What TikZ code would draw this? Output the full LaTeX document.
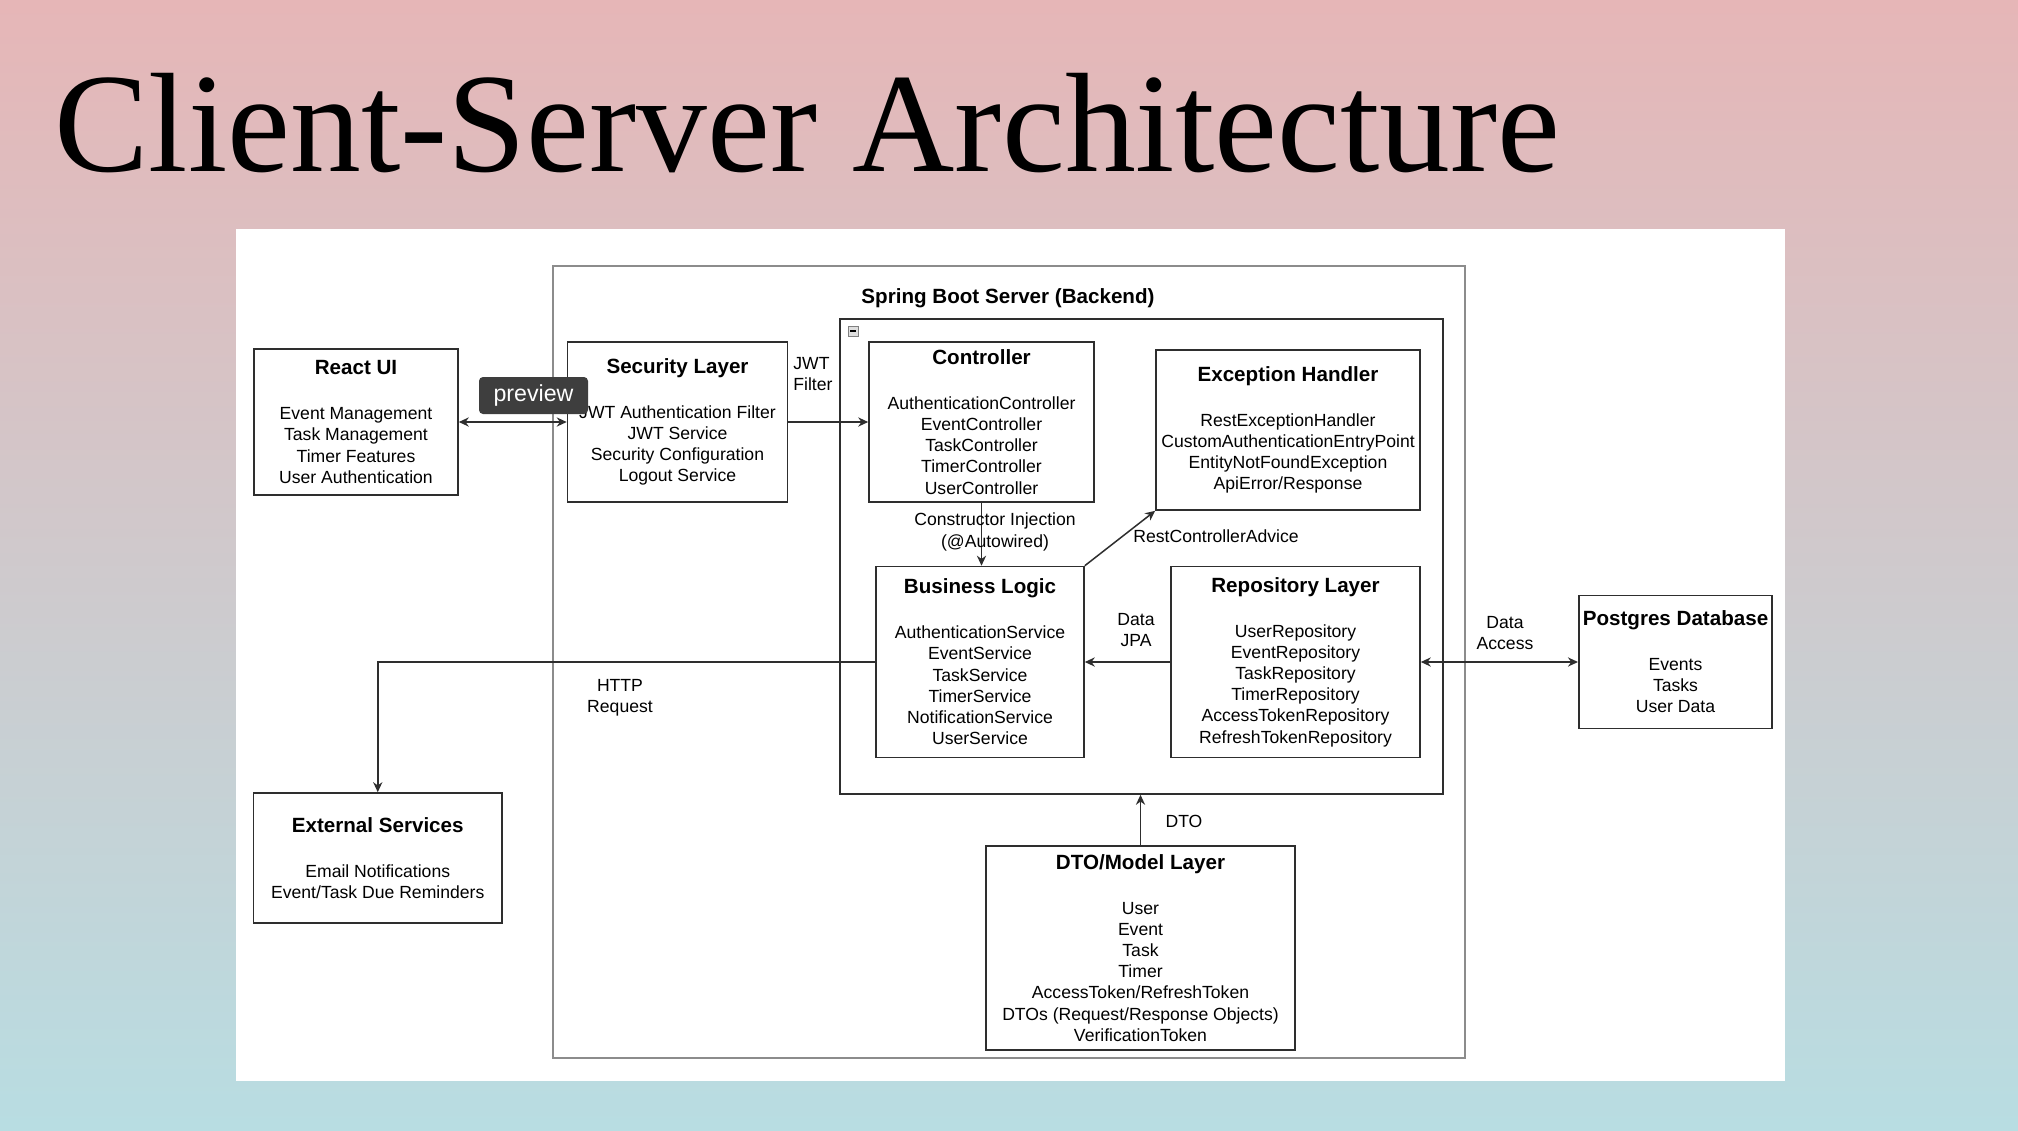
\documentclass[tikz,border=0pt]{standalone}
\usepackage{fontspec}
\setmainfont{Liberation Sans}
\newfontfamily\slidefont{Liberation Serif}
\usepackage{tikz}
\usetikzlibrary{positioning, arrows.meta}
\usepackage{xcolor}

\definecolor{slidetop}{HTML}{E6B6B7}
\definecolor{slidemid}{HTML}{D3CBCF}
\definecolor{slidebot}{HTML}{B8DDE2}
\definecolor{linegray}{HTML}{2E2E2E}
\definecolor{framegray}{HTML}{8C8C8C}
\definecolor{badgegray}{HTML}{3E3E3E}

\newcommand{\itemsize}{\fontsize{8.8}{10.6}\selectfont}
\newcommand{\boxhead}[1]{{\fontsize{10.3}{12}\selectfont\bfseries #1}\\[11.8pt]}

\begin{document}
\begin{tikzpicture}[
                  x=0.5pt, y=-0.5pt, % pixel grid, y downwards
                  every node/.style={font=\itemsize},
                  process/.style={rectangle, draw=linegray, line width=0.8pt, align=center, inner sep=2pt},
                  container/.style={rectangle, draw=framegray, line width=1pt},
                  lane/.style={rectangle, draw=linegray, line width=0.8pt},
                  lbl/.style={align=center, inner sep=0pt},
                  arrow/.style={line width=0.75pt, draw=linegray, -{Stealth[length=5pt, width=4.6pt]}},
                  dblarrow/.style={arrow, {Stealth[length=5pt, width=4.6pt]}-{Stealth[length=5pt, width=4.6pt]}},
                  badge/.style={rectangle, rounded corners=2pt, fill=badgegray, text=white, font=\fontsize{11.6}{13}\selectfont, minimum width=54.5pt, minimum height=18.5pt, inner sep=0pt}
            ]
            \useasboundingbox (0,0) rectangle (2018,1130);

            % Slide background
            \shade [top color=slidetop, middle color=slidemid, bottom color=slidebot] (0,0) rectangle (2018,1130);
            \node (title) [anchor=base west, inner sep=0pt, font=\slidefont\fontsize{70.8}{80}\selectfont] at (54,171) {Client-Server Architecture};
            \fill [white] (235.5,229) rectangle (1785,1081);

            % Containers
            \node (server) [container, minimum width=456pt, minimum height=396pt] at (1009,662) {};
            \node (servertitle) [font=\fontsize{10.3}{12}\selectfont\bfseries] at (1008,298) {Spring Boot Server (Backend)};
            \node (core) [lane, minimum width=301.5pt, minimum height=237.5pt] at (1141.5,556.5) {};
            \node (fold) [draw=gray, fill=gray!25, line width=0.4pt, minimum size=5pt, inner sep=0pt] at (853,331) {};
            \draw [line width=0.6pt] ([xshift=1.2pt]fold.west) -- ([xshift=-1.2pt]fold.east);

            % Nodes
            \node (react) [process, minimum width=102pt, minimum height=73pt] at (356,422) {\boxhead{React UI}Event Management\\Task Management\\Timer Features\\User Authentication};
            \node (security) [process, minimum width=110pt, minimum height=80pt] at (677.5,422) {\boxhead{Security Layer}JWT Authentication Filter\\JWT Service\\Security Configuration\\Logout Service};
            \node (controller) [process, minimum width=112.5pt, minimum height=80pt] at (981.5,422) {\boxhead{Controller}AuthenticationController\\EventController\\TaskController\\TimerController\\UserController};
            \node (exception) [process, minimum width=132pt, minimum height=80pt] at (1288,430) {\boxhead{Exception Handler}RestExceptionHandler\\CustomAuthenticationEntryPoint\\EntityNotFoundException\\ApiError/Response};
            \node (business) [process, minimum width=104pt, minimum height=95.5pt] at (980,662) {\boxhead{Business Logic}AuthenticationService\\EventService\\TaskService\\TimerService\\NotificationService\\UserService};
            \node (repository) [process, minimum width=124.5pt, minimum height=95.5pt] at (1295.5,662) {\boxhead{Repository Layer}UserRepository\\EventRepository\\TaskRepository\\TimerRepository\\AccessTokenRepository\\RefreshTokenRepository};
            \node (postgres) [process, minimum width=96.5pt, minimum height=66.5pt] at (1675.5,662) {\boxhead{Postgres Database}Events\\Tasks\\User Data};
            \node (external) [process, minimum width=124.25pt, minimum height=65pt] at (377.75,858) {\boxhead{External Services}Email Notifications\\Event/Task Due Reminders};
            \node (dto) [process, minimum width=154.5pt, minimum height=102pt] at (1140.5,948) {\boxhead{DTO/Model Layer}User\\Event\\Task\\Timer\\AccessToken/RefreshToken\\DTOs (Request/Response Objects)\\VerificationToken};

            % Arrows
            \draw [dblarrow] (react) -- (security);
            \draw [arrow] (security) -- (controller);
            \draw [arrow] (controller.south) -- (controller.south |- business.north);
            \draw [arrow] (business.north east) -- (exception.south west);
            \draw [arrow] (repository) -- (business);
            \draw [dblarrow] (postgres) -- (repository);
            \draw [arrow] (business.west) -| (external.north);
            \draw [arrow] (dto.north) -- (dto.north |- core.south);

            % Labels
            \node (jwtlbl) [lbl, align=left, anchor=west] at (793,374) {JWT\\Filter};
            \node (injlbl) [lbl] at (995,532) {Constructor Injection\\(@Autowired)};
            \node (advlbl) [lbl, anchor=west] at (1133,536) {RestControllerAdvice};
            \node (jpalbl) [lbl] at (1136,630) {Data\\JPA};
            \node (acclbl) [lbl] at (1505,633) {Data\\Access};
            \node (httplbl) [lbl] at (620,698) {HTTP\\Request};
            \node (dtolbl) [lbl] at (1184,821) {DTO};

            % Viewer badge on top
            \node (badge) [badge] at (533.5,395.5) {preview};

      \end{tikzpicture}
\end{document}
